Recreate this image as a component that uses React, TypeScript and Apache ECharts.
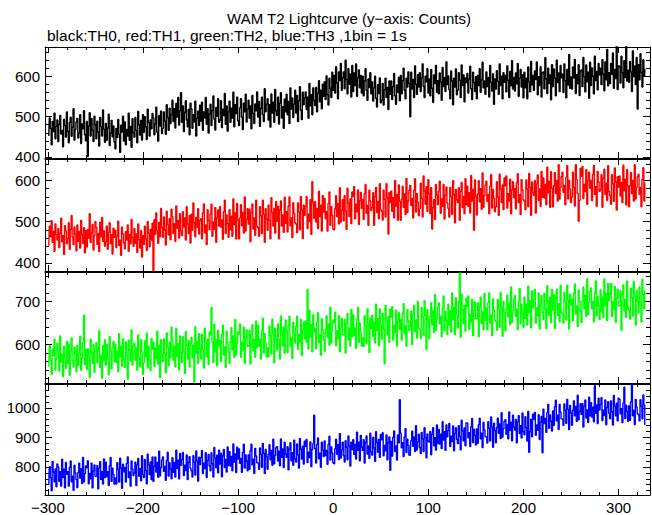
import React, { useEffect, useRef } from "react";
import * as echarts from "echarts";

// time of the first 1-s bin (seconds)
const T0 = -299;

// TH0 (black) counts per 1-s bin
const TH0 = [
  452, 497, 471, 430, 488, 463, 509, 445, 476, 492,
  438, 481, 503, 457, 466, 425, 494, 478, 449, 512,
  463, 435, 486, 499, 451, 474, 520, 442, 468, 487,
  496, 447, 459, 505, 433, 482, 470, 515, 455, 440,
  488, 401, 477, 510, 452, 495, 466, 438, 501, 480,
  445, 489, 462, 427, 498, 476, 452, 517, 469, 436,
  483, 441, 472, 506, 428, 459, 491, 450, 477, 437,
  420, 471, 448, 493, 456, 411, 479, 462, 501, 439,
  487, 430, 468, 452, 509, 441, 476, 424, 495, 460,
  449, 498, 466, 435, 513, 480, 454, 491, 442, 505,
  461, 500, 475, 443, 519, 486, 452, 492, 470, 508,
  497, 455, 482, 524, 462, 439, 503, 477, 514, 458,
  471, 512, 489, 456, 530, 498, 466, 521, 483, 505,
  541, 488, 520, 472, 533, 499, 548, 479, 515, 560,
  486, 527, 463, 511, 540, 492, 475, 518, 455, 534,
  520, 471, 505, 487, 539, 452, 496, 514, 478, 529,
  489, 536, 466, 512, 497, 548, 481, 520, 459, 506,
  531, 478, 515, 552, 494, 467, 523, 501, 545, 486,
  492, 540, 473, 519, 503, 558, 481, 527, 464, 512,
  539, 486, 521, 497, 561, 475, 530, 508, 549, 490,
  478, 522, 545, 499, 468, 534, 512, 556, 487, 519,
  541, 496, 527, 470, 553, 508, 483, 532, 515, 562,
  499, 538, 476, 521, 549, 505, 488, 570, 512, 531,
  545, 492, 530, 474, 557, 509, 536, 486, 568, 515,
  503, 549, 482, 534, 560, 497, 525, 471, 544, 512,
  556, 505, 538, 483, 572, 519, 547, 498, 531, 566,
  509, 553, 488, 540, 575, 516, 493, 561, 530, 547,
  562, 518, 549, 496, 583, 527, 555, 505, 572, 540,
  528, 573, 512, 559, 590, 537, 566, 520, 581, 551,
  587, 543, 602, 555, 529, 596, 571, 548, 611, 566,
  603, 559, 625, 584, 545, 612, 590, 633, 566, 597,
  612, 570, 641, 593, 557, 620, 581, 606, 549, 628,
  563, 609, 578, 632, 551, 597, 617, 572, 603, 559,
  601, 552, 589, 620, 566, 541, 594, 573, 610, 557,
  587, 539, 572, 601, 546, 524, 580, 558, 597, 535,
  541, 583, 529, 567, 596, 548, 573, 518, 589, 556,
  589, 543, 575, 608, 552, 531, 579, 561, 598, 540,
  603, 557, 590, 621, 566, 545, 596, 574, 612, 583,
  500, 611, 569, 593, 548, 627, 581, 556, 605, 574,
  610, 563, 597, 632, 575, 548, 601, 587, 620, 559,
  594, 552, 618, 571, 536, 604, 583, 628, 561, 590,
  557, 609, 586, 541, 623, 575, 598, 563, 637, 580,
  602, 568, 545, 614, 589, 530, 596, 574, 619, 555,
  566, 610, 591, 548, 629, 578, 604, 537, 597, 585,
  608, 559, 594, 626, 570, 543, 611, 585, 563, 600,
  545, 603, 578, 620, 561, 592, 636, 572, 589, 556,
  612, 575, 598, 549, 628, 586, 564, 607, 531, 594,
  569, 615, 588, 556, 632, 578, 601, 545, 610, 586,
  603, 562, 627, 591, 548, 613, 577, 640, 569, 598,
  564, 609, 582, 633, 551, 596, 618, 574, 605, 547,
  611, 572, 596, 545, 624, 587, 562, 638, 579, 603,
  566, 614, 593, 637, 555, 600, 578, 625, 549, 609,
  612, 570, 647, 594, 558, 621, 583, 604, 542, 630,
  575, 619, 596, 552, 641, 585, 609, 563, 628, 597,
  606, 561, 632, 590, 547, 618, 579, 655, 571, 599,
  569, 624, 597, 643, 558, 605, 582, 630, 553, 614,
  617, 575, 648, 600, 562, 629, 587, 611, 546, 636,
  578, 622, 601, 557, 651, 590, 613, 567, 633, 604,
  621, 580, 642, 606, 565, 637, 592, 668, 577, 610,
  583, 633, 606, 659, 571, 618, 595, 681, 568, 627,
  625, 584, 651, 610, 572, 640, 598, 676, 589, 616,
  586, 638, 612, 563, 664, 600, 627, 580, 648, 519,
  630, 592, 657, 611, 574, 642, 603, 620,
];

// TH1 (red)
const TH1 = [
  441, 489, 463, 502, 450, 476, 428, 494, 469, 455,
  483, 437, 472, 508, 451, 466, 420, 490, 478, 446,
  459, 497, 433, 481, 515, 462, 444, 487, 470, 429,
  492, 452, 476, 436, 503, 468, 447, 485, 424, 478,
  438, 481, 460, 519, 449, 473, 493, 431, 466, 500,
  486, 445, 471, 427, 498, 463, 510, 452, 477, 440,
  451, 489, 433, 474, 497, 446, 468, 421, 484, 462,
  479, 437, 466, 501, 442, 455, 418, 487, 470, 448,
  434, 476, 455, 492, 428, 469, 446, 505, 461, 440,
  483, 447, 470, 425, 494, 456, 436, 478, 414, 466,
  445, 489, 458, 430, 500, 471, 439, 481, 455, 496,
  381, 505, 469, 521, 478, 447, 498, 463, 532, 486,
  462, 511, 480, 443, 525, 492, 468, 507, 456, 530,
  512, 471, 495, 452, 538, 484, 503, 460, 519, 477,
  466, 524, 487, 509, 455, 536, 494, 471, 515, 448,
  518, 479, 545, 497, 463, 510, 486, 531, 470, 502,
  507, 458, 521, 543, 473, 492, 444, 529, 503, 480,
  518, 542, 464, 499, 481, 534, 450, 508, 528, 489,
  536, 487, 504, 457, 524, 552, 471, 516, 495, 462,
  529, 480, 513, 464, 555, 493, 521, 458, 544, 504,
  458, 509, 541, 490, 522, 472, 560, 477, 505, 531,
  494, 530, 451, 521, 543, 482, 509, 467, 552, 489,
  485, 464, 536, 514, 471, 552, 518, 450, 531, 506,
  479, 540, 503, 458, 558, 522, 489, 532, 472, 549,
  501, 537, 458, 528, 550, 489, 516, 474, 559, 496,
  524, 475, 538, 560, 490, 509, 461, 546, 520, 497,
  494, 473, 545, 523, 480, 561, 527, 459, 540, 515,
  537, 561, 483, 518, 500, 553, 469, 597, 547, 508,
  548, 499, 532, 483, 574, 512, 540, 477, 563, 523,
  556, 507, 524, 477, 544, 572, 491, 536, 515, 482,
  480, 531, 563, 512, 544, 494, 582, 499, 527, 553,
  502, 563, 526, 481, 581, 545, 512, 555, 495, 572,
  561, 585, 507, 542, 524, 577, 493, 551, 571, 532,
  554, 505, 568, 590, 520, 539, 491, 576, 550, 527,
  534, 570, 491, 561, 583, 522, 549, 507, 592, 529,
  525, 504, 576, 554, 511, 592, 558, 470, 571, 546,
  574, 525, 558, 509, 600, 538, 566, 503, 589, 549,
  503, 554, 586, 535, 567, 517, 605, 522, 550, 576,
  588, 539, 556, 509, 576, 604, 523, 568, 547, 514,
  532, 593, 556, 511, 611, 575, 542, 585, 525, 602,
  568, 519, 582, 482, 534, 553, 505, 590, 564, 541,
  574, 598, 520, 555, 537, 590, 506, 564, 584, 545,
  532, 511, 583, 561, 518, 599, 565, 497, 578, 553,
  546, 582, 503, 573, 595, 534, 561, 519, 604, 541,
  586, 537, 570, 521, 612, 550, 578, 479, 601, 561,
  516, 567, 599, 548, 580, 530, 618, 535, 563, 589,
  598, 549, 566, 519, 586, 614, 533, 578, 557, 524,
  536, 597, 560, 515, 615, 579, 546, 589, 529, 606,
  587, 611, 533, 568, 550, 603, 519, 577, 597, 558,
  580, 531, 594, 616, 546, 565, 517, 602, 576, 553,
  550, 529, 601, 579, 536, 617, 583, 515, 596, 571,
  564, 600, 521, 591, 613, 552, 579, 537, 622, 559,
  606, 557, 590, 541, 632, 570, 598, 535, 621, 581,
  536, 587, 619, 568, 600, 550, 638, 555, 583, 609,
  620, 571, 588, 541, 608, 636, 555, 600, 579, 546,
  559, 620, 583, 538, 638, 602, 569, 501, 552, 629,
  610, 634, 556, 591, 573, 626, 542, 600, 620, 581,
  600, 551, 614, 636, 566, 585, 537, 622, 596, 573,
  578, 614, 535, 605, 627, 566, 593, 551, 636, 573,
  563, 542, 614, 592, 549, 630, 596, 528, 609, 584,
  611, 562, 595, 546, 637, 575, 603, 540, 626, 586,
  536, 587, 619, 568, 600, 550, 638, 555, 583, 609,
  615, 566, 583, 536, 603, 631, 550, 595,
];

// TH2 (green)
const TH2 = [
  548, 597, 563, 530, 589, 574, 612, 541, 566, 603,
  585, 538, 620, 559, 577, 525, 596, 568, 544, 607,
  556, 601, 528, 583, 615, 562, 547, 594, 579, 536,
  598, 551, 580, 619, 540, 567, 604, 668, 553, 588,
  542, 590, 570, 523, 612, 581, 556, 600, 535, 584,
  604, 557, 589, 632, 546, 574, 521, 597, 563, 611,
  552, 600, 568, 529, 618, 585, 543, 593, 607, 560,
  601, 558, 584, 536, 625, 571, 596, 549, 613, 566,
  546, 606, 575, 519, 610, 587, 561, 634, 552, 597,
  603, 563, 592, 540, 622, 569, 548, 611, 583, 530,
  557, 608, 571, 626, 545, 595, 564, 539, 614, 588,
  605, 549, 592, 567, 631, 554, 598, 523, 611, 576,
  560, 613, 578, 534, 627, 593, 551, 605, 569, 640,
  611, 563, 596, 548, 637, 572, 602, 541, 620, 581,
  558, 618, 583, 532, 630, 597, 566, 609, 547, 603,
  617, 569, 598, 512, 641, 580, 606, 556, 625, 590,
  566, 623, 587, 545, 638, 604, 571, 612, 553, 629,
  622, 686, 605, 558, 647, 583, 611, 550, 633, 597,
  609, 560, 623, 645, 575, 594, 546, 631, 605, 582,
  556, 607, 639, 588, 620, 570, 658, 575, 603, 629,
  624, 648, 570, 605, 587, 640, 556, 614, 634, 595,
  597, 633, 554, 624, 646, 585, 612, 570, 655, 592,
  645, 596, 613, 566, 633, 661, 580, 625, 604, 571,
  592, 571, 643, 621, 578, 659, 625, 557, 638, 613,
  587, 648, 611, 566, 666, 630, 597, 640, 580, 657,
  630, 581, 644, 666, 596, 615, 567, 652, 626, 603,
  642, 666, 588, 623, 605, 658, 574, 632, 652, 613,
  654, 605, 728, 589, 680, 618, 646, 583, 669, 629,
  638, 589, 652, 674, 604, 623, 575, 660, 634, 611,
  584, 635, 667, 616, 648, 598, 686, 603, 631, 657,
  651, 675, 597, 632, 614, 667, 583, 641, 661, 622,
  623, 659, 580, 650, 672, 611, 638, 596, 681, 618,
  670, 621, 638, 591, 658, 686, 605, 650, 629, 596,
  616, 595, 667, 645, 602, 683, 649, 581, 662, 637,
  668, 619, 652, 603, 694, 632, 660, 597, 683, 643,
  612, 673, 636, 555, 691, 655, 622, 665, 605, 682,
  664, 688, 610, 645, 627, 680, 596, 654, 674, 635,
  659, 610, 673, 695, 625, 644, 596, 681, 655, 632,
  642, 678, 599, 669, 691, 630, 657, 615, 700, 637,
  635, 614, 686, 664, 621, 702, 668, 588, 681, 656,
  614, 665, 697, 646, 678, 628, 716, 633, 661, 687,
  697, 648, 665, 618, 685, 713, 632, 677, 656, 623,
  694, 645, 678, 629, 720, 658, 686, 623, 709, 669,
  638, 699, 766, 617, 717, 681, 648, 691, 631, 708,
  689, 713, 635, 670, 652, 705, 621, 679, 699, 660,
  661, 697, 618, 688, 710, 649, 676, 634, 719, 656,
  684, 635, 698, 720, 650, 669, 621, 706, 680, 657,
  654, 633, 705, 683, 640, 721, 687, 619, 700, 675,
  632, 683, 715, 664, 696, 646, 734, 651, 679, 705,
  714, 665, 682, 635, 702, 730, 649, 694, 673, 640,
  710, 661, 694, 645, 736, 674, 702, 639, 725, 685,
  704, 728, 650, 685, 667, 720, 636, 694, 714, 675,
  658, 719, 682, 637, 737, 701, 668, 711, 651, 728,
  680, 716, 637, 707, 729, 668, 695, 653, 738, 675,
  671, 650, 722, 700, 657, 738, 704, 636, 717, 692,
  705, 656, 719, 741, 671, 690, 642, 727, 701, 678,
  651, 702, 734, 683, 715, 665, 753, 670, 698, 724,
  732, 683, 700, 653, 720, 748, 667, 712, 691, 658,
  727, 678, 711, 662, 753, 691, 719, 656, 742, 702,
  719, 743, 665, 700, 682, 735, 651, 709, 729, 690,
  690, 726, 633, 717, 739, 678, 705, 663, 748, 685,
  680, 659, 731, 709, 666, 747, 713, 645, 726, 701,
  673, 734, 697, 652, 752, 716, 683, 726,
];

// TH3 (blue)
const TH3 = [
  740, 801, 764, 719, 819, 783, 750, 793, 733, 810,
  800, 751, 784, 735, 826, 764, 792, 729, 815, 775,
  784, 735, 798, 820, 750, 769, 721, 806, 780, 757,
  730, 781, 813, 762, 794, 744, 832, 749, 777, 803,
  797, 821, 743, 778, 760, 813, 729, 787, 807, 768,
  769, 805, 726, 796, 818, 757, 784, 742, 827, 764,
  816, 767, 784, 737, 804, 832, 751, 796, 775, 742,
  763, 742, 814, 792, 749, 830, 796, 728, 809, 784,
  798, 749, 812, 834, 764, 783, 735, 820, 794, 771,
  780, 816, 737, 807, 829, 768, 795, 753, 838, 775,
  764, 825, 788, 743, 843, 807, 774, 817, 757, 834,
  751, 802, 834, 783, 815, 765, 853, 770, 798, 824,
  834, 785, 802, 755, 822, 850, 769, 814, 793, 760,
  831, 782, 815, 766, 857, 795, 823, 760, 846, 806,
  825, 849, 771, 806, 788, 841, 757, 815, 835, 796,
  787, 766, 838, 816, 773, 854, 820, 752, 833, 808,
  832, 856, 778, 813, 795, 848, 764, 822, 842, 803,
  787, 848, 811, 766, 866, 830, 797, 840, 780, 857,
  810, 846, 767, 837, 859, 798, 825, 783, 868, 805,
  852, 803, 836, 787, 878, 816, 844, 781, 867, 827,
  861, 812, 829, 782, 849, 877, 796, 841, 820, 787,
  841, 792, 855, 877, 807, 826, 778, 863, 837, 814,
  813, 792, 864, 842, 799, 880, 846, 778, 859, 834,
  792, 843, 875, 824, 856, 806, 894, 811, 839, 865,
  869, 820, 853, 804, 895, 833, 861, 798, 884, 844,
  833, 869, 790, 860, 882, 821, 848, 806, 891, 828,
  817, 878, 841, 796, 896, 860, 827, 870, 810, 887,
  869, 893, 815, 850, 832, 885, 801, 859, 879, 975,
  862, 813, 876, 898, 828, 847, 799, 884, 858, 835,
  888, 839, 856, 809, 876, 904, 823, 868, 847, 814,
  811, 862, 894, 843, 875, 825, 913, 830, 858, 884,
  838, 817, 889, 867, 824, 905, 871, 803, 884, 859,
  892, 843, 876, 827, 918, 856, 884, 821, 907, 867,
  856, 892, 813, 883, 905, 844, 871, 829, 914, 851,
  840, 901, 864, 819, 919, 883, 850, 893, 833, 910,
  892, 916, 838, 873, 855, 908, 824, 882, 902, 789,
  886, 837, 900, 922, 852, 871, 823, 908, 882, 1028,
  914, 865, 882, 835, 902, 930, 849, 894, 873, 840,
  838, 889, 921, 870, 902, 852, 940, 857, 885, 911,
  866, 845, 917, 895, 852, 933, 899, 831, 912, 887,
  884, 920, 841, 911, 933, 872, 899, 857, 942, 879,
  927, 878, 911, 862, 953, 891, 919, 856, 942, 902,
  923, 947, 869, 904, 886, 939, 855, 913, 933, 894,
  879, 940, 903, 858, 958, 922, 889, 932, 872, 949,
  948, 899, 916, 869, 936, 964, 883, 928, 907, 874,
  929, 880, 943, 965, 895, 914, 866, 951, 925, 902,
  902, 881, 953, 931, 888, 969, 935, 867, 948, 923,
  882, 933, 965, 914, 946, 896, 984, 901, 929, 955,
  960, 911, 944, 895, 986, 924, 952, 889, 975, 935,
  925, 961, 882, 952, 974, 913, 940, 898, 983, 920,
  909, 970, 933, 888, 988, 850, 919, 962, 902, 979,
  961, 985, 907, 942, 924, 977, 893, 951, 971, 848,
  996, 947, 964, 917, 984, 1012, 931, 976, 955, 922,
  990, 941, 1004, 1026, 956, 975, 927, 1012, 986, 963,
  962, 941, 1013, 991, 948, 1029, 995, 927, 1008, 983,
  941, 992, 1024, 973, 1005, 955, 1043, 960, 988, 1014,
  978, 1014, 935, 1005, 1027, 966, 993, 951, 1036, 973,
  1018, 969, 1002, 953, 1075, 982, 1010, 947, 1033, 993,
  1011, 1035, 957, 992, 974, 1027, 943, 1001, 1021, 982,
  963, 1024, 987, 942, 1042, 1006, 973, 1016, 956, 1033,
  1029, 980, 997, 950, 1017, 1070, 964, 1009, 988, 955,
  1007, 958, 1021, 1082, 973, 992, 944, 1029, 1003, 980,
  977, 956, 1028, 1006, 963, 1044, 1010, 942,
];

// axis ranges and tick labels
const X_RANGE = [-303, 333];
const X_TICKS = [-300, -200, -100, 0, 100, 200, 300];
const Y_RANGES = [
  [397, 674],
  [380, 652],
  [510, 769],
  [705, 1081],
];
const Y_TICKS = [
  [400, 500, 600],
  [400, 500, 600],
  [600, 700],
  [800, 900, 1000],
];
const MINOR_STEP = 20;

const SERIES_DATA = [TH0, TH1, TH2, TH3];
const COLORS = ["#000000", "#ff0000", "#00ff00", "#0000ff"];
const TITLE = "WAM T2 Lightcurve (y\u2212axis: Counts)";
const SUBTITLE = "black:TH0, red:TH1, green:TH2, blue:TH3 ,1bin = 1s";

// layout
const GRID_LEFT = 45;
const GRID_WIDTH = 605;
const GRID_BOXES = [
  { top: 47, height: 111 },
  { top: 159, height: 112 },
  { top: 272, height: 111 },
  { top: 384, height: 111 },
];
const FONT = "Liberation Sans";
const FS = 15;

function minorValues(min: number, max: number, step: number) {
  const out: number[] = [];
  for (let v = Math.ceil(min / step) * step; v <= max; v += step) out.push(v);
  return out;
}

const fmt = (v: number) => String(v).replace("-", "\u2212");

export default function App() {
  const ref = useRef<HTMLDivElement>(null);
  useEffect(() => {
    if (!ref.current) return;
    const chart = echarts.init(ref.current, null, { renderer: "svg" });
    const line = { color: "#000", width: 1 };
    const grid: any[] = [];
    const xAxis: any[] = [];
    const yAxis: any[] = [];
    const series: any[] = [];
    const xMinor = minorValues(X_RANGE[0], X_RANGE[1], MINOR_STEP);
    GRID_BOXES.forEach((b, g) => {
      grid.push({ left: GRID_LEFT, width: GRID_WIDTH, top: b.top, height: b.height, show: false });
      const [ymin, ymax] = Y_RANGES[g];
      const yMinor = minorValues(ymin, ymax, MINOR_STEP);
      const base = g * 4;
      (["bottom", "bottom", "top", "top"] as const).forEach((pos, k) => {
        const major = k % 2 === 0;
        xAxis.push({
          gridIndex: g,
          type: "value",
          min: X_RANGE[0],
          max: X_RANGE[1],
          position: pos,
          axisLine: { show: major, onZero: false, lineStyle: line },
          axisTick: {
            show: true,
            inside: true,
            length: major ? 6 : 3,
            customValues: major ? X_TICKS : xMinor,
            lineStyle: line,
          },
          axisLabel: {
            show: g === 3 && k === 0,
            customValues: X_TICKS,
            formatter: fmt,
            color: "#000",
            fontFamily: FONT,
            fontSize: FS,
            margin: 5,
          },
          splitLine: { show: false },
        });
      });
      (["left", "left", "right", "right"] as const).forEach((pos, k) => {
        const major = k % 2 === 0;
        yAxis.push({
          gridIndex: g,
          type: "value",
          min: ymin,
          max: ymax,
          position: pos,
          axisLine: { show: major, onZero: false, lineStyle: line },
          axisTick: {
            show: true,
            inside: true,
            length: major ? 7 : 4,
            customValues: major ? Y_TICKS[g] : yMinor,
            lineStyle: line,
          },
          axisLabel: {
            show: k === 0,
            customValues: Y_TICKS[g],
            formatter: fmt,
            color: "#000",
            fontFamily: FONT,
            fontSize: FS,
            margin: 5,
          },
          splitLine: { show: false },
        });
      });
      series.push({
        type: "line",
        xAxisIndex: base,
        yAxisIndex: base,
        data: SERIES_DATA[g].map((v, i) => [T0 + i, v]),
        step: "middle",
        symbol: "none",
        showSymbol: false,
        clip: true,
        lineStyle: { color: COLORS[g], width: 1.4 },
        itemStyle: { color: COLORS[g] },
      });
    });
    chart.setOption({
      animation: false,
      backgroundColor: "#ffffff",
      grid,
      xAxis,
      yAxis,
      series,
      graphic: [
        {
          type: "text",
          x: 349,
          y: 18,
          style: {
            text: TITLE,
            fill: "#000",
            font: `${FS}px "${FONT}"`,
            textAlign: "center",
            textVerticalAlign: "middle",
          },
        },
        {
          type: "text",
          x: 47,
          y: 35,
          style: {
            text: SUBTITLE,
            fill: "#000",
            font: `15.5px "${FONT}"`,
            textAlign: "left",
            textVerticalAlign: "middle",
          },
        },
      ],
    });
    return () => chart.dispose();
  }, []);
  return (
    <div
      ref={ref}
      style={{ position: "absolute", left: 0, top: 0, width: 652, height: 515, background: "#fff" }}
    />
  );
}
